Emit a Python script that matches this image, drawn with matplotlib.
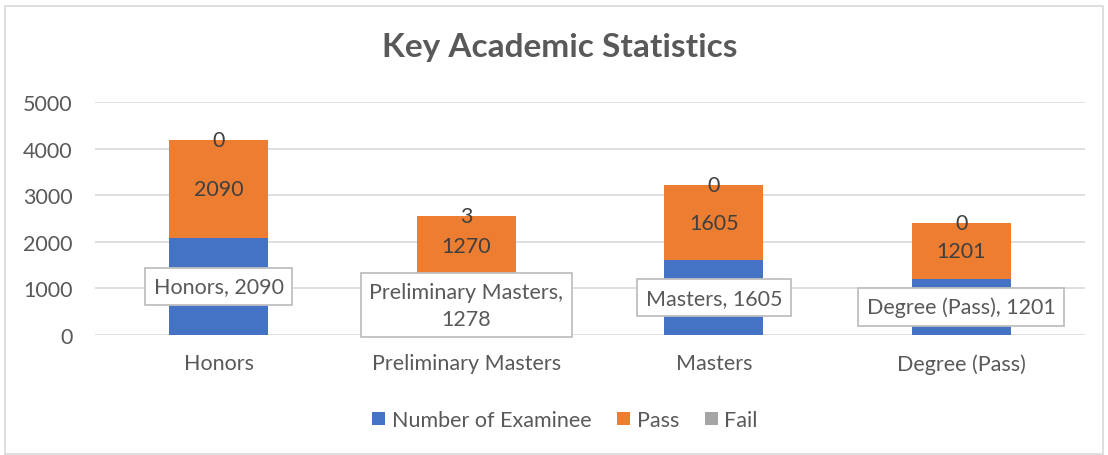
import matplotlib
matplotlib.use("Agg")
import matplotlib.pyplot as plt
from matplotlib.patches import Rectangle
import numpy as np

categories = ["Honors", "Preliminary Masters", "Masters", "Degree (Pass)"]
examinees = [2090, 1278, 1605, 1201]
passed = [2090, 1270, 1605, 1201]
failed = [0, 3, 0, 0]
series_names = ["Number of Examinee", "Pass", "Fail"]
yticks = [0, 1000, 2000, 3000, 4000, 5000]

colors = ["#4472C4", "#ED7D31", "#A5A5A5"]
txt = "#595959"
plt.rcParams["font.family"] = ["Lato", "DejaVu Sans"]

fig = plt.figure(figsize=(11.08, 4.56), dpi=100)
ax = fig.add_axes([95/1108, 1-336/456, 990/1108, 233/456])

x = np.arange(len(categories))
w = 0.4
b1 = ax.bar(x, examinees, w, color=colors[0], label=series_names[0], zorder=2)
b2 = ax.bar(x, passed, w, bottom=examinees, color=colors[1], label=series_names[1], zorder=2)
bottom3 = np.array(examinees) + np.array(passed)
b3 = ax.bar(x, failed, w, bottom=bottom3, color=colors[2], label=series_names[2], zorder=2)

fs = 15.5
for i in range(len(categories)):
    lab = f"{categories[i]}, {examinees[i]}"
    if categories[i] == "Preliminary Masters":
        lab = f"{categories[i]},\n{examinees[i]}"
    ax.text(x[i], examinees[i] / 2, lab, ha="center", va="center", fontsize=fs, color=txt,
            zorder=5, linespacing=1.45,
            bbox=dict(boxstyle="square,pad=0.4", fc="white", ec="#BFBFBF", lw=1.3))
    ax.text(x[i], examinees[i] + passed[i] / 2, str(passed[i]), ha="center", va="center",
            fontsize=fs, color="#404040", zorder=4)
    ax.text(x[i], bottom3[i] + failed[i] / 2, str(failed[i]), ha="center", va="center",
            fontsize=fs, color="#404040", zorder=4)

ax.set_ylim(0, 5000)
ax.set_xlim(-0.5, len(categories) - 0.5)
ax.set_yticks(yticks)
ax.set_xticks(x)
ax.set_xticklabels(categories)
ax.tick_params(axis="both", length=0, labelsize=fs, colors=txt)
ax.tick_params(axis="x", pad=13)
ax.tick_params(axis="y", pad=16)
ax.grid(axis="y", color="#D9D9D9", lw=1.2, zorder=0)
for s in ax.spines.values():
    s.set_visible(False)

fig.suptitle("Key Academic Statistics", x=0.505, y=1-47/456, va="center",
             fontsize=24, fontweight="bold", color=txt)

leg = fig.legend(handles=[b1, b2, b3], labels=series_names, loc="center",
                 bbox_to_anchor=(565/1108, 1-421/456), ncol=3, frameon=False,
                 fontsize=fs, handlelength=0.6, handleheight=0.6, handletextpad=0.3,
                 columnspacing=1.2)
for t in leg.get_texts():
    t.set_color(txt)

fig.patches.append(Rectangle((5/1108, 0.002), 1 - 10/1108, 1 - 8/456, transform=fig.transFigure,
                             fill=False, ec="#D9D9D9", lw=1.2))

fig.savefig("out.png", dpi=100, facecolor="white")
